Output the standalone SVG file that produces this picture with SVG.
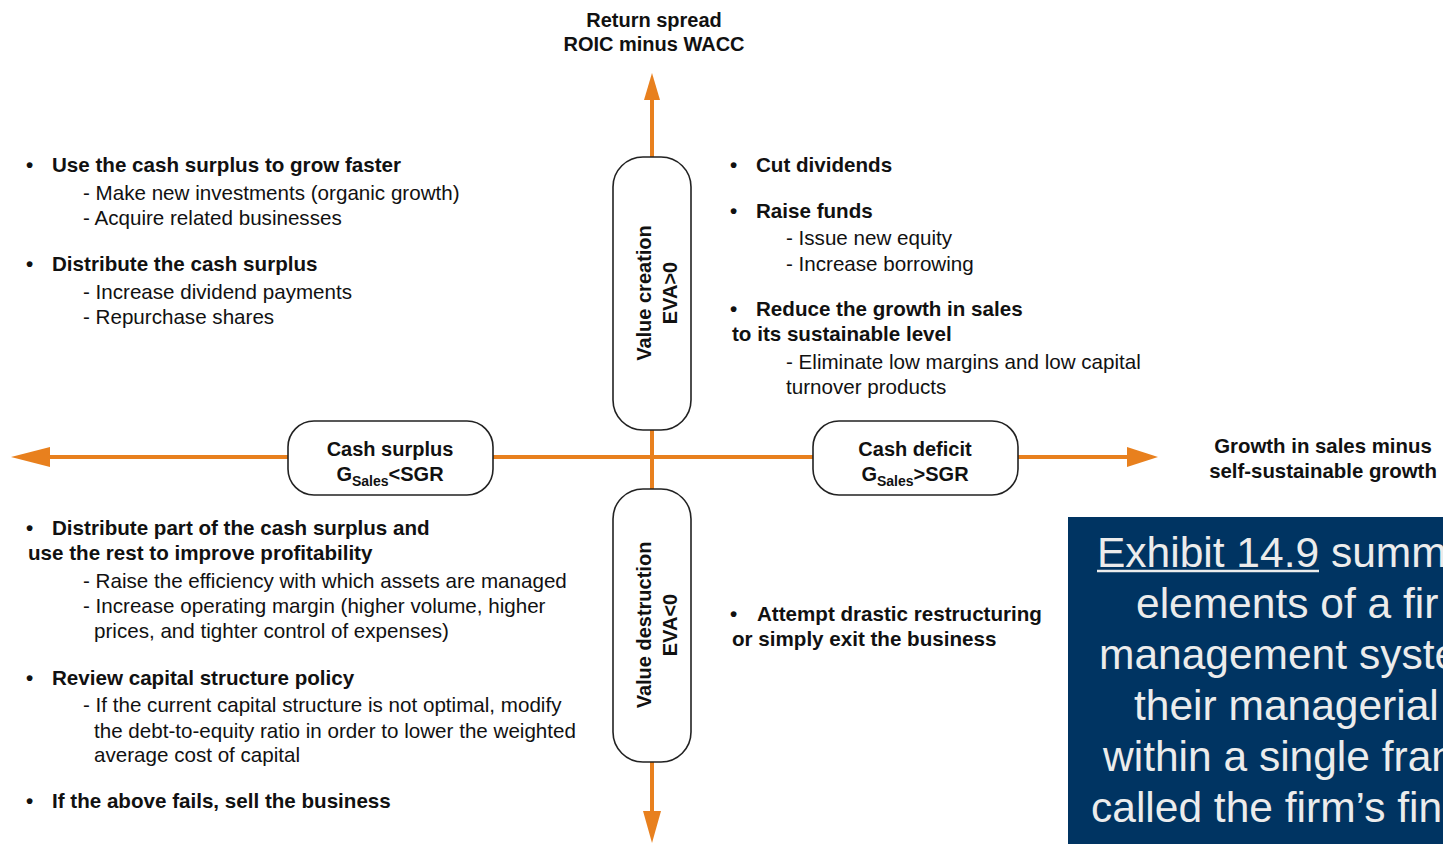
<svg xmlns="http://www.w3.org/2000/svg" width="1443" height="844" viewBox="0 0 1443 844">
  <defs>
    <style>
      text { font-family: "Liberation Sans", Arial, sans-serif; fill: #111; }
      .b { font-weight: bold; font-size: 20px; }
      .r { font-size: 20px; }
      .q text { font-size: 20.6px; }
      .c { text-anchor: middle; }
      .axis { stroke: #E8801E; stroke-width: 4; fill: none; }
      .head { fill: #E8801E; }
      .node { fill: #fff; stroke: #222; stroke-width: 1.6; }
      .panel text { font-size: 42.5px; fill: #ececec; }
      .sub { font-size: 14px; }
    </style>
  </defs>
  <rect width="1443" height="844" fill="#fff"/>

  <!-- axes -->
  <g id="connectors">
    <line class="axis" x1="652" y1="98" x2="652" y2="812"/>
    <line class="axis" x1="48" y1="457" x2="1130" y2="457"/>
    <polygon class="head" points="652,73 644,100 660,100"/>
    <polygon class="head" points="652,843 643,811 661,811"/>
    <polygon class="head" points="11,457 50,447 50,467"/>
    <polygon class="head" points="1158,457 1127,447 1127,467"/>
  </g>

  <!-- axis titles -->
  <text class="b c" x="654" y="27">Return spread</text>
  <text class="b c" x="654" y="51">ROIC minus WACC</text>
  <text class="b c" x="1323" y="453" style="font-size:20.4px">Growth in sales minus</text>
  <text class="b c" x="1323" y="478" style="font-size:20.4px">self-sustainable growth</text>

  <!-- quadrant nodes -->
  <g id="value-creation">
    <rect class="node" x="613" y="157" width="78" height="273" rx="30" ry="30"/>
    <g transform="translate(652,293) rotate(-90)">
      <text class="b c" x="0" y="-1">Value creation</text>
      <text class="b c" x="0" y="25">EVA&gt;0</text>
    </g>
  </g>
  <g id="value-destruction">
    <rect class="node" x="613" y="489" width="78" height="273" rx="30" ry="30"/>
    <g transform="translate(652,625) rotate(-90)">
      <text class="b c" x="0" y="-1">Value destruction</text>
      <text class="b c" x="0" y="25">EVA&lt;0</text>
    </g>
  </g>
  <g id="cash-surplus">
    <rect class="node" x="288" y="421" width="205" height="74" rx="26" ry="26"/>
    <text class="b c" x="390" y="456">Cash surplus</text>
    <text class="b c" x="390" y="481">G<tspan class="sub" dy="5">Sales</tspan><tspan dy="-5">&lt;SGR</tspan></text>
  </g>
  <g id="cash-deficit">
    <rect class="node" x="813" y="421" width="205" height="74" rx="26" ry="26"/>
    <text class="b c" x="915" y="456">Cash deficit</text>
    <text class="b c" x="915" y="481">G<tspan class="sub" dy="5">Sales</tspan><tspan dy="-5">&gt;SGR</tspan></text>
  </g>

  <!-- upper-left quadrant -->
  <g id="surplus-creation" class="q">
    <text class="b" x="26" y="172">•</text><text class="b" x="52" y="172">Use the cash surplus to grow faster</text>
    <text class="r" x="83" y="200">- Make new investments (organic growth)</text>
    <text class="r" x="83" y="225">- Acquire related businesses</text>
    <text class="b" x="26" y="271">•</text><text class="b" x="52" y="271">Distribute the cash surplus</text>
    <text class="r" x="83" y="299">- Increase dividend payments</text>
    <text class="r" x="83" y="324">- Repurchase shares</text>
  </g>

  <!-- upper-right quadrant -->
  <g id="deficit-creation" class="q">
    <text class="b" x="730" y="172">•</text><text class="b" x="756" y="172">Cut dividends</text>
    <text class="b" x="730" y="218">•</text><text class="b" x="756" y="218">Raise funds</text>
    <text class="r" x="786" y="245">- Issue new equity</text>
    <text class="r" x="786" y="271">- Increase borrowing</text>
    <text class="b" x="730" y="316">•</text><text class="b" x="756" y="316">Reduce the growth in sales</text>
    <text class="b" x="732" y="341">to its sustainable level</text>
    <text class="r" x="786" y="369">- Eliminate low margins and low capital</text>
    <text class="r" x="786" y="394">turnover products</text>
  </g>

  <!-- lower-left quadrant -->
  <g id="surplus-destruction" class="q">
    <text class="b" x="26" y="535">•</text><text class="b" x="52" y="535">Distribute part of the cash surplus and</text>
    <text class="b" x="28" y="560">use the rest to improve profitability</text>
    <text class="r" x="83" y="588">- Raise the efficiency with which assets are managed</text>
    <text class="r" x="83" y="613">- Increase operating margin (higher volume, higher</text>
    <text class="r" x="94" y="638">prices, and tighter control of expenses)</text>
    <text class="b" x="26" y="685">•</text><text class="b" x="52" y="685">Review capital structure policy</text>
    <text class="r" x="83" y="712">- If the current capital structure is not optimal, modify</text>
    <text class="r" x="94" y="738">the debt-to-equity ratio in order to lower the weighted</text>
    <text class="r" x="94" y="762">average cost of capital</text>
    <text class="b" x="26" y="808">•</text><text class="b" x="52" y="808">If the above fails, sell the business</text>
  </g>

  <!-- lower-right quadrant -->
  <g id="deficit-destruction" class="q">
    <text class="b" x="730" y="621">•</text><text class="b" x="757" y="621">Attempt drastic restructuring</text>
    <text class="b" x="732" y="646">or simply exit the business</text>
  </g>

  <!-- caption panel -->
  <g id="caption" class="panel">
    <rect x="1068" y="517" width="375" height="327" fill="#003462"/>
    <text x="1097" y="567">Exhibit 14.9 summ</text>
    <line x1="1097" y1="571" x2="1319" y2="571" stroke="#ececec" stroke-width="2.5"/>
    <text x="1136" y="618">elements of a fir</text>
    <text x="1099" y="669">management syste</text>
    <text x="1134" y="720">their managerial</text>
    <text x="1103" y="771">within a single fran</text>
    <text x="1091" y="822">called the firm’s fin</text>
  </g>
</svg>
